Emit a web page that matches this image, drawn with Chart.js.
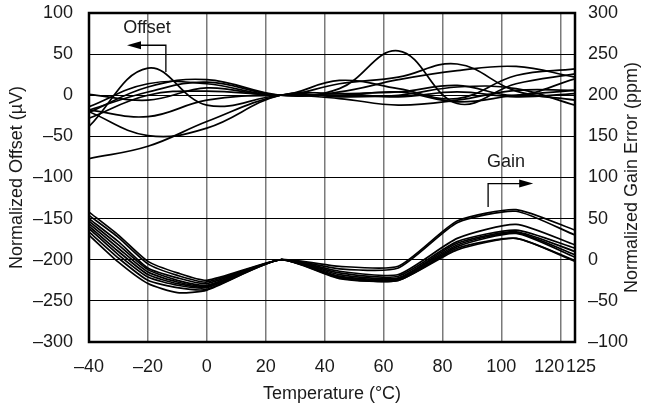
<!DOCTYPE html>
<html>
<head>
<meta charset="utf-8">
<script src="https://cdn.jsdelivr.net/npm/chart.js@4/dist/chart.umd.min.js"></script>
<style>
  html, body { margin: 0; padding: 0; background: #fff; }
  #wrap { width: 645px; height: 406px; }
</style>
</head>
<body>
<div id="wrap"><canvas id="chart" width="645" height="406"></canvas></div>
<script>
// axis ticks
const xTicks = [-40, -20, 0, 20, 40, 60, 80, 100, 120, 125];
const offsetTicks = [-300, -250, -200, -150, -100, -50, 0, 50, 100];
const gainTicks = [-100, -50, 0, 50, 100, 150, 200, 250, 300];

// offset curves (uV), left axis
const offsetTemps = [-40, -20, 0, 25, 45, 65, 85, 105, 125];
const offset1 = [-38, 33, -12, 0, 0, 4, -8, 0, 6];
const offset2 = [-18, 4, 16, 0, 8, 54, -10, 14, 26];
const offset3 = [-21, 10, 19, 0, 4, 19, 30, 35, 22];
const offset4 = [-14, 14, 14, 0, 14, 22, 38, 5, -6];
const offset5 = [1, -6, 9, 0, 18, 8, -4, 24, 32];
const offset6 = [-18, -26, -6, 0, -4, -12, -6, 6, 6];
const offset7 = [-20, -49, -40, 0, -2, 0, 10, 8, -12];
const offset8 = [-77, -62, -32, 0, 2, -2, 4, -2, 2];
const offset9 = [-28, 0, 5, 0, 2, 4, 12, 0, 20];

// gain error curves (ppm), right axis
const gainTemps = [-40, -30, -20, -10, 0, 25, 45, 65, 85, 105, 125];
const gain1 = [58, 30, -2, -16, -25, 0, -8, -8, 47, 61, 36];
const gain2 = [54, 27, -5, -19, -27, 0, -11, -10, 45, 59, 30];
const gain3 = [50, 22, -10, -22, -29, 0, -14, -18, 26, 43, 18];
const gain4 = [47, 18, -12, -25, -31, 0, -16, -20, 22, 36, 14];
const gain5 = [44, 14, -15, -27, -32, 0, -18, -22, 20, 34, 10];
const gain6 = [41, 10, -18, -29, -33, 0, -20, -23, 18, 33, 6];
const gain7 = [38, 6, -21, -31, -34, 0, -21, -24, 16, 32, 3];
const gain8 = [34, 2, -25, -34, -36, 0, -22, -25, 14, 26, -1];
const gain9 = [30, -3, -29, -40, -37, 0, -23, -25, 12, 26, -2];

const offsetList = [offset1, offset2, offset3, offset4, offset5, offset6, offset7, offset8, offset9];
const gainList = [gain1, gain2, gain3, gain4, gain5, gain6, gain7, gain8, gain9];

const FONT = "'Liberation Sans', Arial, Helvetica, sans-serif";
const TXT = '#1a1a1a';
const SIZE = 18;

function dash(v) {
    return v < 0 ? '\u2013' + Math.abs(v) : String(v);
}

// fixed box sizes so the plot area lands where the original has it
function fixBox(w, h) {
    return axis => {
        if (w) axis.width = w;
        if (h) axis.height = h;
        axis.paddingTop = 0;
        axis.paddingBottom = 0;
        axis.paddingLeft = 0;
        axis.paddingRight = 0;
    };
}

const datasets = [];
offsetList.forEach(arr => {
    datasets.push({
        data: arr.map((v, i) => ({ x: offsetTemps[i], y: v })),
        yAxisID: 'y',
        borderColor: '#000',
        borderWidth: 1.7,
        pointRadius: 0,
        tension: 0.4,
        fill: false
    });
});
gainList.forEach(arr => {
    datasets.push({
        data: arr.map((v, i) => ({ x: gainTemps[i], y: v })),
        yAxisID: 'y2',
        borderColor: '#000',
        borderWidth: 1.7,
        pointRadius: 0,
        tension: 0.2,
        fill: false
    });
});

// frame, arrows with labels, right title, crowded end ticks
const extras = {
    id: 'extras',
    afterDatasetsDraw(chart) {
        const { ctx, chartArea: a, scales } = chart;
        const xs = scales.x, ys = scales.y;
        ctx.save();
        ctx.strokeStyle = '#000';
        ctx.lineWidth = 2.5;
        ctx.strokeRect(a.left, a.top, a.right - a.left, a.bottom - a.top);

        ctx.lineWidth = 1.3;
        ctx.fillStyle = '#000';
        // Offset arrow (points left)
        const oc = xs.getPixelForValue(-13.9), oy = ys.getPixelForValue(60.8);
        const ob = ys.getPixelForValue(28.3), ot = xs.getPixelForValue(-27.1);
        ctx.beginPath();
        ctx.moveTo(oc, ob); ctx.lineTo(oc, oy); ctx.lineTo(ot + 10, oy);
        ctx.stroke();
        ctx.beginPath();
        ctx.moveTo(ot, oy); ctx.lineTo(ot + 14, oy - 4); ctx.lineTo(ot + 14, oy + 4);
        ctx.closePath(); ctx.fill();
        // Gain arrow (points right)
        const gc = xs.getPixelForValue(95.5), gy = ys.getPixelForValue(-107.4);
        const gb = ys.getPixelForValue(-135.8), gt = xs.getPixelForValue(110.8);
        ctx.beginPath();
        ctx.moveTo(gc, gb); ctx.lineTo(gc, gy); ctx.lineTo(gt - 10, gy);
        ctx.stroke();
        ctx.beginPath();
        ctx.moveTo(gt, gy); ctx.lineTo(gt - 14, gy - 4); ctx.lineTo(gt - 14, gy + 4);
        ctx.closePath(); ctx.fill();

        ctx.fillStyle = TXT;
        ctx.font = SIZE + 'px ' + FONT;
        ctx.textAlign = 'center';
        ctx.textBaseline = 'middle';
        ctx.fillText('Offset', xs.getPixelForValue(-20.3), ys.getPixelForValue(81.5));
        ctx.fillText('Gain', xs.getPixelForValue(101.6), ys.getPixelForValue(-81.5));

        // 120 and 125 sit close together, push them apart
        const ly = a.bottom + 14 + SIZE * 0.6;
        ctx.textAlign = 'right';
        ctx.fillText(dash(120), xs.getPixelForValue(120) + 4, ly);
        ctx.textAlign = 'left';
        ctx.fillText(dash(125), xs.getPixelForValue(125) - 9, ly);

        // right axis title reads bottom to top
        ctx.textAlign = 'center';
        ctx.translate(632, (a.top + a.bottom) / 2);
        ctx.rotate(-Math.PI / 2);
        ctx.fillText('Normalized Gain Error (ppm)', 0, 0);
        ctx.restore();
    }
};

new Chart(document.getElementById('chart'), {
    type: 'line',
    data: { datasets },
    options: {
        responsive: false,
        animation: false,
        events: [],
        layout: { padding: { top: 13, left: 0, right: 0, bottom: 0 } },
        plugins: { legend: { display: false }, tooltip: { enabled: false } },
        scales: {
            x: {
                type: 'linear',
                min: -40,
                max: 125,
                afterBuildTicks: axis => { axis.ticks = xTicks.map(v => ({ value: v })); },
                afterFit: fixBox(0, 64),
                grid: { color: '#7a7a7a', lineWidth: 1.5, drawTicks: false },
                border: { display: false },
                ticks: {
                    autoSkip: false, maxRotation: 0, padding: 14,
                    color: TXT, font: { family: FONT, size: SIZE },
                    callback: v => (v >= 120 ? '' : dash(v))
                },
                title: {
                    display: true, text: 'Temperature (\u00B0C)', color: TXT,
                    font: { family: FONT, size: SIZE }, padding: { top: 0, bottom: 1 }
                }
            },
            y: {
                position: 'left',
                min: -300,
                max: 100,
                afterBuildTicks: axis => { axis.ticks = offsetTicks.map(v => ({ value: v })); },
                afterFit: fixBox(89, 0),
                grid: { color: '#000', lineWidth: 1, drawTicks: false },
                border: { display: false },
                ticks: {
                    padding: 16, color: TXT, font: { family: FONT, size: SIZE },
                    callback: v => dash(v)
                },
                title: {
                    display: true, text: 'Normalized Offset (\u00B5V)', color: TXT,
                    font: { family: FONT, size: SIZE }, padding: { top: 6, bottom: 0 }
                }
            },
            y2: {
                position: 'right',
                min: -100,
                max: 300,
                afterBuildTicks: axis => { axis.ticks = gainTicks.map(v => ({ value: v })); },
                afterFit: fixBox(70, 0),
                grid: { display: false, drawTicks: false },
                border: { display: false },
                ticks: {
                    padding: 13, color: TXT, font: { family: FONT, size: SIZE },
                    callback: v => dash(v)
                }
            }
        }
    },
    plugins: [extras]
});
</script>
</body>
</html>
